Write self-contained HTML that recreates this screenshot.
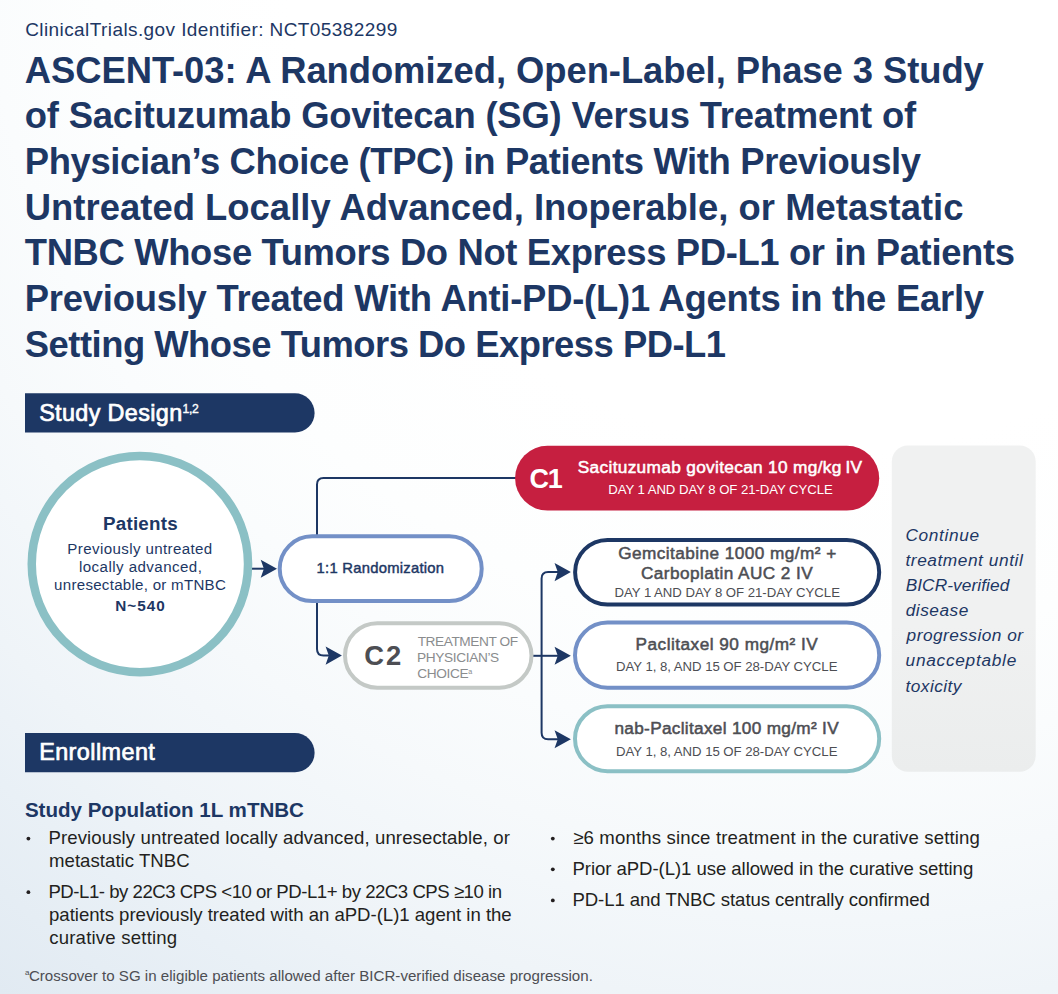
<!DOCTYPE html>
<html lang="en"><head><meta charset="utf-8"><title>ASCENT-03</title>
<style>
html,body{margin:0;padding:0}
body{width:1058px;height:994px;position:relative;overflow:hidden;background:#fff;font-family:"Liberation Sans", sans-serif}
#bg{position:absolute;left:0;top:0;width:1058px;height:994px;background:radial-gradient(circle at 830px -100px, #fff 0, #fff 550px, rgb(253,254,254) 740px, rgb(250,252,253) 850px, rgb(246,249,251) 960px, rgb(243,247,250) 1020px, rgb(239,244,248) 1110px, rgb(233,240,246) 1210px, rgb(225,234,242) 1373px)}
svg{position:absolute;left:0;top:0}
.t{position:absolute;display:block;white-space:nowrap;margin:0;font-weight:400;font-style:normal;vertical-align:baseline}
h1,h2,h3,p,ul,li,header,section,footer,div{margin:0;padding:0;font:inherit;list-style:none}
</style></head><body>
<div id="bg"></div>
<svg width="1058" height="994" viewBox="0 0 1058 994"><defs><linearGradient id="pg" x1="0" y1="0" x2="0" y2="1"><stop offset="0" stop-color="#f0f1f1"/><stop offset="0.55" stop-color="#f0f1f1"/><stop offset="1" stop-color="#ebeded"/></linearGradient></defs>
<rect x="891.8" y="445.5" width="143.9" height="326.2" rx="16" ry="16" fill="url(#pg)"/>
<path d="M252,568.7 H264" fill="none" stroke="#1d3764" stroke-width="2"/>
<path d="M317,536 V484.6 Q317,478.1 323.5,478.1 H520" fill="none" stroke="#1d3764" stroke-width="2"/>
<path d="M317,601 V649.1 Q317,655.6 323.5,655.6 H329" fill="none" stroke="#1d3764" stroke-width="2"/>
<path d="M531,655.8 H558" fill="none" stroke="#1d3764" stroke-width="2"/>
<path d="M558,572.1 H548.1 Q541.6,572.1 541.6,578.6 V732.7 Q541.6,739.2 548.1,739.2 H558" fill="none" stroke="#1d3764" stroke-width="2"/>
<path d="M277.00,568.70 L260.70,559.65 L263.90,568.70 L260.70,577.75 Z" fill="#1d3764"/>
<path d="M341.90,655.60 L325.60,646.55 L328.80,655.60 L325.60,664.65 Z" fill="#1d3764"/>
<path d="M570.85,572.10 L554.55,563.05 L557.75,572.10 L554.55,581.15 Z" fill="#1d3764"/>
<path d="M570.85,655.80 L554.55,646.75 L557.75,655.80 L554.55,664.85 Z" fill="#1d3764"/>
<path d="M570.85,739.25 L554.55,730.20 L557.75,739.25 L554.55,748.30 Z" fill="#1d3764"/>
<circle cx="139.9" cy="564.05" r="108.15" fill="#fff" stroke="#8bc0c5" stroke-width="8.5"/>
<rect x="279.70" y="536.30" width="202.00" height="64.80" rx="32.40" ry="32.40" fill="#fff" stroke="#7390c7" stroke-width="4"/>
<rect x="345.00" y="623.20" width="186.50" height="64.50" rx="32.25" ry="32.25" fill="#fff" stroke="#c4c9c6" stroke-width="4"/>
<rect x="515.10" y="445.80" width="364.10" height="64.80" rx="32.40" ry="32.40" fill="#c61f40"/>
<rect x="575.10" y="539.90" width="304.10" height="64.70" rx="32.35" ry="32.35" fill="#fff" stroke="#1d3764" stroke-width="4"/>
<rect x="575.00" y="622.60" width="304.20" height="65.10" rx="32.55" ry="32.55" fill="#fff" stroke="#7390c7" stroke-width="4"/>
<rect x="575.00" y="706.20" width="304.20" height="65.00" rx="32.50" ry="32.50" fill="#fff" stroke="#8bc0c5" stroke-width="4"/>
<path d="M25,393.3 H294.95 A19.65,19.65 0 0 1 294.95,432.6 H25 Z" fill="#1d3764"/>
<path d="M25,733.0 H294.95 A19.65,19.65 0 0 1 294.95,772.3 H25 Z" fill="#1d3764"/>
<circle cx="28.4" cy="838.6" r="1.9" fill="#231f20"/>
<circle cx="28.4" cy="892.2" r="1.9" fill="#231f20"/>
<circle cx="552.8" cy="838.6" r="1.9" fill="#231f20"/>
<circle cx="552.8" cy="869.3" r="1.9" fill="#231f20"/>
<circle cx="552.8" cy="900.4" r="1.9" fill="#231f20"/>
</svg>
<header>
<p><span class="t" style="left:25.21px;top:18px;font-size:19.0px;line-height:23px;letter-spacing:0.410px;color:#1d3764;">ClinicalTrials.gov Identifier: NCT05382299</span></p>
<h1><span class="t" style="left:24.80px;top:49px;font-size:36.4px;line-height:44px;letter-spacing:-0.057px;color:#1d3764;font-weight:700;">ASCENT-03: A Randomized, Open-Label, Phase 3 Study</span><span class="t" style="left:24.80px;top:94px;font-size:36.4px;line-height:44px;letter-spacing:-0.179px;color:#1d3764;font-weight:700;">of Sacituzumab Govitecan (SG) Versus Treatment of</span><span class="t" style="left:24.80px;top:140px;font-size:36.4px;line-height:44px;letter-spacing:-0.354px;color:#1d3764;font-weight:700;">Physician’s Choice (TPC) in Patients With Previously</span><span class="t" style="left:24.80px;top:186px;font-size:36.4px;line-height:44px;letter-spacing:0.032px;color:#1d3764;font-weight:700;">Untreated Locally Advanced, Inoperable, or Metastatic</span><span class="t" style="left:24.80px;top:231px;font-size:36.4px;line-height:44px;letter-spacing:-0.349px;color:#1d3764;font-weight:700;">TNBC Whose Tumors Do Not Express PD-L1 or in Patients</span><span class="t" style="left:24.80px;top:277px;font-size:36.4px;line-height:44px;letter-spacing:-0.225px;color:#1d3764;font-weight:700;">Previously Treated With Anti-PD-(L)1 Agents in the Early</span><span class="t" style="left:24.80px;top:323px;font-size:36.4px;line-height:44px;letter-spacing:-0.498px;color:#1d3764;font-weight:700;">Setting Whose Tumors Do Express PD-L1</span></h1>
</header>
<section class="design">
<h2><span class="t" style="left:39.15px;top:399px;font-size:23.4px;line-height:28px;letter-spacing:0.361px;color:#fff;-webkit-text-stroke:0.7px;">Study Design</span><sup class="t" style="left:182.62px;top:402px;font-size:12.2px;line-height:15px;letter-spacing:-0.337px;color:#fff;-webkit-text-stroke:0.37px;">1,2</sup></h2>
<div class="patients"><span class="t" style="left:103.04px;top:512px;font-size:18.8px;line-height:23px;letter-spacing:0.220px;color:#1d3764;font-weight:700;">Patients</span><span class="t" style="left:67.34px;top:540px;font-size:15.1px;line-height:18px;letter-spacing:0.386px;color:#1d3764;">Previously untreated</span><span class="t" style="left:78.99px;top:558px;font-size:15.1px;line-height:18px;letter-spacing:0.441px;color:#1d3764;">locally advanced,</span><span class="t" style="left:54.11px;top:576px;font-size:15.1px;line-height:18px;letter-spacing:0.269px;color:#1d3764;">unresectable, or mTNBC</span><span class="t" style="left:115.19px;top:597px;font-size:15.3px;line-height:18px;letter-spacing:1.042px;color:#1d3764;font-weight:700;">N~540</span></div>
<div class="rand"><span class="t" style="left:316.59px;top:559px;font-size:14.8px;line-height:18px;letter-spacing:0.258px;color:#1d3764;-webkit-text-stroke:0.44px;">1:1 Randomization</span></div>
<div class="arm c1"><span class="t" style="left:529.53px;top:463px;font-size:27.0px;line-height:32px;letter-spacing:-1.200px;color:#fff;font-weight:700;">C1</span><span class="t" style="left:577.77px;top:457px;font-size:17.3px;line-height:21px;letter-spacing:0.312px;color:#fff;-webkit-text-stroke:0.52px;">Sacituzumab govitecan 10 mg/kg&thinsp;IV</span><span class="t" style="left:608.19px;top:482px;font-size:13.2px;line-height:16px;letter-spacing:-0.060px;color:#fff;">DAY 1 AND DAY 8 OF 21-DAY CYCLE</span></div>
<div class="arm c2"><span class="t" style="left:364.28px;top:639px;font-size:27.4px;line-height:33px;letter-spacing:1.949px;color:#4d4e53;font-weight:700;">C2</span><span class="t" style="left:417.64px;top:634px;font-size:13.7px;line-height:16px;letter-spacing:-0.430px;color:#8a8c8e;">TREATMENT OF</span><span class="t" style="left:417.07px;top:650px;font-size:13.7px;line-height:16px;letter-spacing:-0.379px;color:#8a8c8e;">PHYSICIAN’S</span><span class="t" style="left:417.29px;top:666px;font-size:13.7px;line-height:16px;letter-spacing:-0.399px;color:#8a8c8e;">CHOICE</span><sup class="t" style="left:468.36px;top:667px;font-size:7.2px;line-height:9px;letter-spacing:0.000px;color:#8a8c8e;">a</sup></div>
<div class="tx"><span class="t" style="left:618.18px;top:543px;font-size:17.2px;line-height:21px;letter-spacing:0.445px;color:#4d4e53;-webkit-text-stroke:0.52px;">Gemcitabine 1000 mg/m² +</span><span class="t" style="left:640.88px;top:563px;font-size:17.2px;line-height:21px;letter-spacing:0.447px;color:#4d4e53;-webkit-text-stroke:0.52px;">Carboplatin AUC 2 IV</span><span class="t" style="left:614.49px;top:585px;font-size:13.2px;line-height:16px;letter-spacing:-0.034px;color:#4d4e53;">DAY 1 AND DAY 8 OF 21-DAY CYCLE</span></div>
<div class="tx"><span class="t" style="left:635.57px;top:634px;font-size:17.2px;line-height:21px;letter-spacing:0.491px;color:#4d4e53;-webkit-text-stroke:0.52px;">Paclitaxel 90 mg/m² IV</span><span class="t" style="left:615.99px;top:659px;font-size:13.2px;line-height:16px;letter-spacing:-0.036px;color:#4d4e53;">DAY 1, 8, AND 15 OF 28-DAY CYCLE</span></div>
<div class="tx"><span class="t" style="left:614.49px;top:718px;font-size:17.2px;line-height:21px;letter-spacing:0.317px;color:#4d4e53;-webkit-text-stroke:0.52px;">nab-Paclitaxel 100 mg/m² IV</span><span class="t" style="left:615.99px;top:744px;font-size:13.2px;line-height:16px;letter-spacing:-0.036px;color:#4d4e53;">DAY 1, 8, AND 15 OF 28-DAY CYCLE</span></div>
<p class="note"><span class="t" style="left:905.41px;top:525px;font-size:17.3px;line-height:21px;letter-spacing:0.647px;color:#1d3764;font-style:italic;">Continue</span><span class="t" style="left:905.51px;top:550px;font-size:17.3px;line-height:21px;letter-spacing:0.553px;color:#1d3764;font-style:italic;">treatment until</span><span class="t" style="left:905.64px;top:575px;font-size:17.3px;line-height:21px;letter-spacing:0.078px;color:#1d3764;font-style:italic;">BICR-verified</span><span class="t" style="left:905.65px;top:600px;font-size:17.3px;line-height:21px;letter-spacing:0.522px;color:#1d3764;font-style:italic;">disease</span><span class="t" style="left:906.62px;top:625px;font-size:17.3px;line-height:21px;letter-spacing:0.452px;color:#1d3764;font-style:italic;">progression or</span><span class="t" style="left:905.55px;top:650px;font-size:17.3px;line-height:21px;letter-spacing:0.720px;color:#1d3764;font-style:italic;">unacceptable</span><span class="t" style="left:905.51px;top:676px;font-size:17.3px;line-height:21px;letter-spacing:0.450px;color:#1d3764;font-style:italic;">toxicity</span></p>
</section>
<section class="enroll">
<h2><span class="t" style="left:39.14px;top:738px;font-size:23.4px;line-height:28px;letter-spacing:0.434px;color:#fff;-webkit-text-stroke:0.7px;">Enrollment</span></h2>
<h3><span class="t" style="left:24.93px;top:797px;font-size:20.6px;line-height:25px;letter-spacing:-0.036px;color:#1d3764;font-weight:700;">Study Population 1L mTNBC</span></h3>
<ul><li><span class="t" style="left:48.43px;top:827px;font-size:18.6px;line-height:22px;letter-spacing:0.104px;color:#231f20;">Previously untreated locally advanced, unresectable, or</span><span class="t" style="left:49.04px;top:850px;font-size:18.6px;line-height:22px;letter-spacing:0.032px;color:#231f20;">metastatic TNBC</span></li><li><span class="t" style="left:48.43px;top:881px;font-size:18.6px;line-height:22px;letter-spacing:-0.475px;color:#231f20;">PD-L1- by 22C3 CPS &lt;10 or PD-L1+ by 22C3 CPS ≥10 in</span><span class="t" style="left:49.04px;top:904px;font-size:18.6px;line-height:22px;letter-spacing:-0.025px;color:#231f20;">patients previously treated with an aPD-(L)1 agent in the</span><span class="t" style="left:49.21px;top:927px;font-size:18.6px;line-height:22px;letter-spacing:0.196px;color:#231f20;">curative setting</span></li></ul>
<ul><li><span class="t" style="left:573.23px;top:827px;font-size:18.6px;line-height:22px;letter-spacing:0.142px;color:#231f20;">≥6 months since treatment in the curative setting</span></li><li><span class="t" style="left:572.43px;top:858px;font-size:18.6px;line-height:22px;letter-spacing:-0.067px;color:#231f20;">Prior aPD-(L)1 use allowed in the curative setting</span></li><li><span class="t" style="left:572.43px;top:889px;font-size:18.6px;line-height:22px;letter-spacing:-0.075px;color:#231f20;">PD-L1 and TNBC status centrally confirmed</span></li></ul>
</section>
<footer><p><sup class="t" style="left:24.97px;top:968px;font-size:8px;line-height:10px;letter-spacing:0.000px;color:#4d4e53;">a</sup><span class="t" style="left:28.93px;top:967px;font-size:15.1px;line-height:18px;letter-spacing:0.012px;color:#4d4e53;">Crossover to SG in eligible patients allowed after BICR-verified disease progression.</span></p></footer>
</body></html>
